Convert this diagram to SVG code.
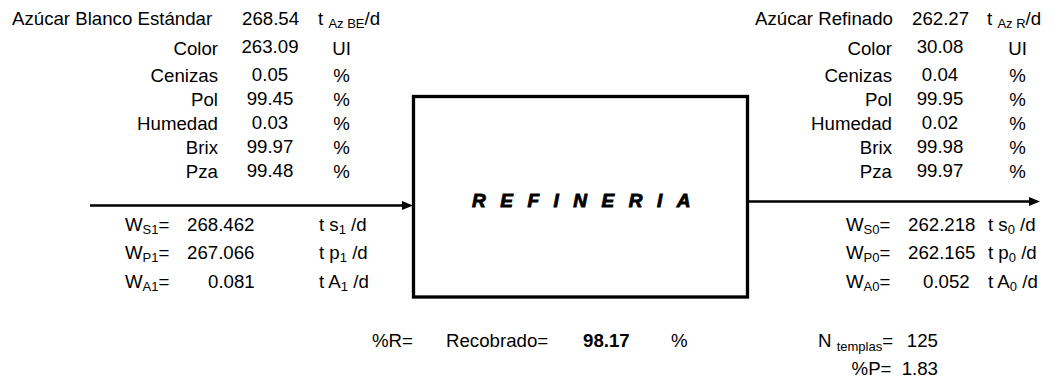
<svg xmlns="http://www.w3.org/2000/svg" width="1054" height="381" viewBox="0 0 1054 381">
<style>
text { font-family: "Liberation Sans", Arial, Helvetica, sans-serif; font-size: 18.67px; fill: #000; }
.s { font-size: 13px; }
.e { text-anchor: end; }
.m { text-anchor: middle; }
.b { font-weight: bold; }
.title { font-weight: bold; font-style: italic; font-size: 19px; letter-spacing: 14.5px; stroke: #000; stroke-width: 0.9px; }
.conn { stroke: #000; stroke-width: 2.6; fill: none; }
.box { stroke: #000; stroke-width: 3.3; fill: #fff; }
</style>
<defs>
<marker id="ah" markerUnits="userSpaceOnUse" markerWidth="11" markerHeight="10" refX="0" refY="5" orient="auto">
<path d="M0,0.5 L11,5 L0,9.5 z" fill="#000"/>
</marker>
</defs>
<rect width="1054" height="381" fill="#fff"/>

<g id="connectors">
<line class="conn" x1="90" y1="205.5" x2="402" y2="205.5" marker-end="url(#ah)"/>
<line class="conn" x1="748" y1="201.5" x2="1029" y2="201.5" marker-end="url(#ah)"/>
</g>

<g id="refineria">
<rect class="box" x="413.5" y="96.5" width="334" height="200.5"/>
<text class="title" x="472" y="207">REFINERIA</text>
</g>

<g id="azucar-blanco">
<text x="12" y="25">Azúcar Blanco Estándar</text>
<text x="242" y="25">268.54</text>
<text x="318" y="25">t <tspan class="s" dy="3">Az BE</tspan><tspan dy="-3">/d</tspan></text>
<text class="e" x="218" y="55">Color</text>
<text class="e" x="218" y="82">Cenizas</text>
<text class="e" x="218" y="106">Pol</text>
<text class="e" x="218" y="130">Humedad</text>
<text class="e" x="218" y="154">Brix</text>
<text class="e" x="218" y="178">Pza</text>
<text class="m" x="270" y="53">263.09</text>
<text class="m" x="270" y="81">0.05</text>
<text class="m" x="270" y="105">99.45</text>
<text class="m" x="270" y="129">0.03</text>
<text class="m" x="270" y="153">99.97</text>
<text class="m" x="270" y="177">99.48</text>
<text class="m" x="341.5" y="55">UI</text>
<text class="m" x="341.5" y="82">%</text>
<text class="m" x="341.5" y="106">%</text>
<text class="m" x="341.5" y="130">%</text>
<text class="m" x="341.5" y="154">%</text>
<text class="m" x="341.5" y="178">%</text>
</g>

<g id="azucar-refinado">
<text x="755" y="25">Azúcar Refinado</text>
<text x="912" y="25">262.27</text>
<text x="987" y="25">t <tspan class="s" dy="3">Az R</tspan><tspan dy="-3">/d</tspan></text>
<text class="e" x="892" y="55">Color</text>
<text class="e" x="892" y="82">Cenizas</text>
<text class="e" x="892" y="106">Pol</text>
<text class="e" x="892" y="130">Humedad</text>
<text class="e" x="892" y="154">Brix</text>
<text class="e" x="892" y="178">Pza</text>
<text class="m" x="940" y="53">30.08</text>
<text class="m" x="940" y="81">0.04</text>
<text class="m" x="940" y="105">99.95</text>
<text class="m" x="940" y="129">0.02</text>
<text class="m" x="940" y="153">99.98</text>
<text class="m" x="940" y="177">99.97</text>
<text class="m" x="1017.5" y="55">UI</text>
<text class="m" x="1017.5" y="82">%</text>
<text class="m" x="1017.5" y="106">%</text>
<text class="m" x="1017.5" y="130">%</text>
<text class="m" x="1017.5" y="154">%</text>
<text class="m" x="1017.5" y="178">%</text>
</g>

<g id="flujo-entrada">
<text x="125" y="231">W<tspan class="s" dy="3">S1</tspan><tspan dy="-3">=</tspan></text>
<text x="187" y="231">268.462</text>
<text x="319" y="231">t s<tspan class="s" dy="3">1</tspan><tspan dy="-3"> /d</tspan></text>
<text x="125" y="259">W<tspan class="s" dy="3">P1</tspan><tspan dy="-3">=</tspan></text>
<text x="187" y="259">267.066</text>
<text x="319" y="259">t p<tspan class="s" dy="3">1</tspan><tspan dy="-3"> /d</tspan></text>
<text x="125" y="288">W<tspan class="s" dy="3">A1</tspan><tspan dy="-3">=</tspan></text>
<text x="208" y="288">0.081</text>
<text x="319" y="288">t A<tspan class="s" dy="3">1</tspan><tspan dy="-3"> /d</tspan></text>
</g>

<g id="flujo-salida">
<text x="846" y="231">W<tspan class="s" dy="3">S0</tspan><tspan dy="-3">=</tspan></text>
<text x="908" y="231">262.218</text>
<text x="988" y="231">t s<tspan class="s" dy="3">0</tspan><tspan dy="-3"> /d</tspan></text>
<text x="846" y="259">W<tspan class="s" dy="3">P0</tspan><tspan dy="-3">=</tspan></text>
<text x="908" y="259">262.165</text>
<text x="988" y="259">t p<tspan class="s" dy="3">0</tspan><tspan dy="-3"> /d</tspan></text>
<text x="846" y="288">W<tspan class="s" dy="3">A0</tspan><tspan dy="-3">=</tspan></text>
<text x="923" y="288">0.052</text>
<text x="988" y="288">t A<tspan class="s" dy="3">0</tspan><tspan dy="-3"> /d</tspan></text>
</g>

<g id="recobrado">
<text x="372" y="347">%R=</text>
<text x="446" y="347">Recobrado=</text>
<text class="b" x="583" y="347">98.17</text>
<text x="671" y="347">%</text>
</g>

<g id="templas">
<text x="818" y="347">N <tspan class="s" dy="4">templas</tspan><tspan dy="-4">=</tspan></text>
<text class="e" x="938" y="347">125</text>
<text class="e" x="891.5" y="375">%P=</text>
<text class="e" x="938" y="375">1.83</text>
</g>
</svg>
